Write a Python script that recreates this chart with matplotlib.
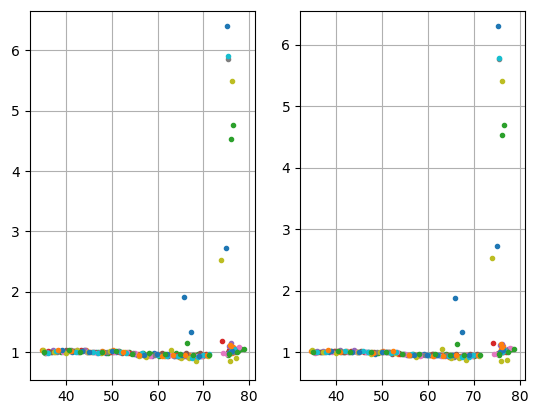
import matplotlib.pyplot as plt

# x positions per series (shared by both panels)
xs = [
    [35.0, 38.4, 41.2, 43.9, 48.6, 50.9, 56.3, 59.1, 61.8, 65.8, 67.3, 69.5, 75.0, 75.2, 76.1,
     36.9, 46.5, 54.8, 63.5, 70.8, 75.9],
    [34.6, 37.5, 40.3, 42.8, 45.1, 47.8, 50.2, 53.5, 57.2, 60.4, 63.1, 66.9, 69.8, 75.8, 76.3,
     36.2, 44.2, 55.6, 64.6, 68.2, 76.4],
    [35.2, 38.9, 41.7, 44.5, 49.1, 51.6, 56.8, 58.6, 61.2, 64.0, 66.4, 68.8, 75.4, 76.0, 76.5, 78.3,
     36.8, 46.9, 53.8, 60.2, 70.0, 77.6],
    [36.0, 39.6, 43.2, 46.0, 49.8, 54.0, 57.9, 62.3, 64.2, 68.1, 70.5, 74.1, 76.9,
     41.9, 51.4, 60.6, 66.7, 75.7],
    [37.1, 40.8, 44.0, 47.3, 51.2, 55.4, 59.7, 63.6, 67.7, 71.0, 75.6, 77.5,
     35.8, 42.6, 58.8, 65.9, 76.0],
    [36.6, 41.5, 45.5, 48.2, 52.1, 56.0, 60.9, 64.8, 66.2, 69.2, 76.7,
     39.9, 50.3, 57.6, 62.6, 70.6, 75.3],
    [35.5, 39.2, 42.4, 46.6, 50.5, 53.2, 55.0, 58.3, 62.8, 65.4, 68.5, 74.3, 77.9,
     37.7, 44.6, 56.9, 61.4, 69.6, 75.1],
    [38.0, 43.6, 48.9, 54.6, 59.4, 63.9, 67.0, 70.2, 75.4, 76.4,
     35.4, 41.1, 51.7, 57.8, 65.6, 77.0],
    [34.8, 40.0, 44.8, 49.5, 52.8, 57.5, 61.5, 63.0, 65.0, 68.3, 73.9, 75.9, 76.2, 77.2,
     37.3, 42.2, 47.6, 55.9, 66.8, 71.1],
    [37.8, 42.0, 47.0, 51.9, 56.5, 60.0, 64.5, 67.5, 69.9, 71.2, 75.4, 76.0,
     35.9, 45.8, 53.0, 62.1, 68.9, 76.6],
    [39.0, 45.0, 50.0, 57.0, 62.0, 69.0, 75.7, 43.4, 59.9, 65.2, 76.3],
    [41.0, 48.0, 55.8, 61.0, 66.0, 70.8, 76.1, 38.2, 52.4, 63.3, 75.9],
    [35.1, 40.5, 43.0, 50.8, 58.0, 61.6, 67.8, 75.5, 78.8, 47.7, 54.4, 64.9, 71.3, 77.3],
]

# left panel values
y_left = [
    [1.01, 1.02, 1.00, 1.03, 0.99, 1.01, 0.96, 0.98, 0.95, 1.91, 1.33, 0.94, 2.72, 6.40, 1.02,
     1.00, 1.01, 0.97, 0.94, 0.95, 1.08],
    [1.03, 1.00, 1.02, 1.01, 1.00, 1.02, 1.03, 0.98, 0.94, 0.97, 0.96, 0.95, 0.93, 1.06, 0.99,
     1.01, 1.03, 0.97, 0.92, 0.96, 1.09],
    [0.99, 1.01, 1.02, 1.00, 0.98, 1.02, 0.99, 0.97, 0.96, 0.98, 1.15, 0.97, 0.95, 4.53, 4.77, 1.05,
     1.02, 1.00, 1.00, 0.94, 0.95, 1.02],
    [1.02, 1.01, 1.03, 1.01, 1.00, 0.99, 0.96, 0.94, 0.96, 0.93, 0.97, 1.18, 1.01,
     1.02, 1.01, 0.95, 0.92, 1.03],
    [1.03, 1.02, 1.04, 1.00, 1.02, 0.95, 0.97, 0.93, 0.96, 0.95, 1.11, 1.07,
     1.01, 1.01, 0.94, 0.93, 1.15],
    [1.00, 1.02, 1.01, 1.01, 0.99, 0.97, 0.98, 0.95, 0.98, 0.99, 1.04,
     1.03, 1.00, 0.95, 0.97, 0.96, 1.00],
    [0.98, 1.00, 1.03, 0.99, 1.01, 1.00, 0.98, 0.93, 0.95, 0.92, 0.94, 0.98, 1.08,
     1.02, 1.00, 0.96, 0.93, 0.93, 0.97],
    [1.01, 1.02, 1.00, 0.99, 0.96, 0.94, 0.92, 0.96, 5.85, 1.00,
     1.00, 1.03, 1.01, 0.97, 0.94, 1.03],
    [1.04, 0.98, 1.00, 1.02, 1.00, 0.92, 0.94, 1.04, 0.91, 0.86, 2.53, 0.85, 5.50, 0.90,
     1.00, 1.03, 0.99, 0.94, 0.90, 0.93],
    [1.02, 1.01, 0.99, 1.00, 0.98, 0.95, 0.93, 0.91, 0.96, 0.97, 5.91, 1.02,
     0.99, 1.01, 0.99, 0.94, 0.92, 1.05],
    [1.03, 1.01, 1.02, 0.95, 0.97, 0.94, 0.99, 1.02, 0.97, 0.96, 1.02],
    [1.02, 1.00, 0.96, 0.93, 0.95, 0.96, 1.10, 1.04, 1.01, 0.95, 1.12],
    [1.00, 1.03, 1.00, 1.02, 0.98, 0.97, 0.96, 0.97, 1.06, 1.01, 0.97, 0.97, 0.96, 1.00],
]

# right panel values
y_right = [
    [1.02, 1.01, 1.01, 1.02, 0.98, 1.00, 0.95, 0.97, 0.96, 1.88, 1.33, 0.95, 2.73, 6.31, 1.01,
     1.01, 1.00, 0.98, 0.95, 0.96, 1.10],
    [1.02, 1.01, 1.02, 1.00, 1.01, 1.01, 1.02, 0.97, 0.95, 0.96, 0.95, 0.94, 0.94, 1.05, 1.00,
     1.00, 1.02, 0.96, 0.93, 0.95, 1.11],
    [1.00, 1.02, 1.01, 1.01, 0.99, 1.01, 0.98, 0.96, 0.97, 0.97, 1.14, 0.96, 0.96, 4.53, 4.70, 1.06,
     1.01, 1.01, 0.99, 0.95, 0.94, 1.03],
    [1.01, 1.02, 1.02, 1.00, 1.01, 0.98, 0.95, 0.95, 0.95, 0.94, 0.96, 1.15, 1.00,
     1.01, 1.00, 0.96, 0.93, 1.01],
    [1.02, 1.03, 1.03, 1.01, 1.01, 0.96, 0.96, 0.94, 0.95, 0.96, 1.12, 1.06,
     1.02, 1.00, 0.95, 0.94, 1.14],
    [1.01, 1.01, 1.02, 1.00, 0.98, 0.96, 0.97, 0.94, 0.97, 0.98, 1.03,
     1.02, 1.01, 0.96, 0.96, 0.97, 0.99],
    [0.99, 1.01, 1.02, 1.00, 1.00, 1.01, 0.97, 0.94, 0.94, 0.93, 0.95, 0.97, 1.07,
     1.01, 1.01, 0.95, 0.94, 0.94, 0.98],
    [1.02, 1.01, 1.01, 0.98, 0.95, 0.95, 0.93, 0.95, 5.77, 1.01,
     1.01, 1.02, 1.00, 0.96, 0.93, 1.04],
    [1.03, 0.99, 1.01, 1.01, 0.99, 0.93, 0.95, 1.05, 0.90, 0.87, 2.53, 0.86, 5.41, 0.88,
     1.01, 1.02, 0.98, 0.95, 0.91, 0.94],
    [1.01, 1.02, 1.00, 0.99, 0.97, 0.96, 0.94, 0.92, 0.95, 0.96, 5.78, 1.01,
     1.00, 1.02, 1.00, 0.95, 0.93, 1.04],
    [1.02, 1.00, 1.01, 0.96, 0.96, 0.95, 1.00, 1.01, 0.96, 0.95, 1.03],
    [1.01, 0.99, 0.95, 0.94, 0.96, 0.95, 1.08, 1.03, 1.02, 0.94, 1.13],
    [1.01, 1.02, 1.01, 1.01, 0.97, 0.98, 0.95, 0.98, 1.05, 1.00, 0.98, 0.96, 0.95, 1.01],
]

fig = plt.figure(figsize=(5.37, 4.13), dpi=100)
ax1 = fig.add_axes([29.5 / 537, 33 / 413, 225.5 / 537, 369.5 / 413])
ax2 = fig.add_axes([300 / 537, 33 / 413, 225.5 / 537, 369.5 / 413])

for ax, ys in ((ax1, y_left), (ax2, y_right)):
    for x, y in zip(xs, ys):
        ax.plot(x, y, '.')
    ax.grid(True)
    ax.set_xticks([40, 50, 60, 70, 80])
    ax.set_yticks([1, 2, 3, 4, 5, 6])

ax1.set_xlim(31.9, 81.3)
ax1.set_ylim(0.54, 6.66)
ax2.set_xlim(32.2, 81.2)
ax2.set_ylim(0.55, 6.56)

plt.savefig("out.png", dpi=100)
